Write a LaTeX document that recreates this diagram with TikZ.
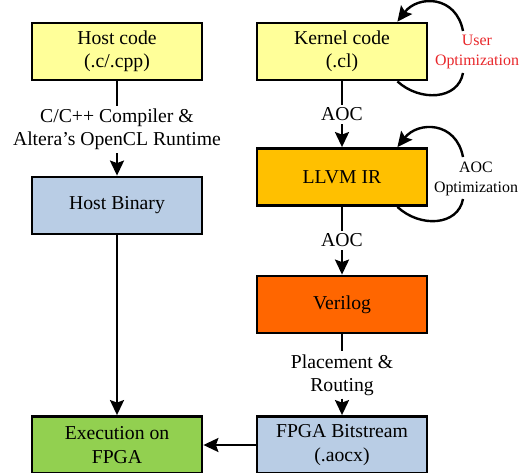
\documentclass[tikz,border=0pt]{standalone}
\usepackage{fontspec}
\setmainfont{Liberation Serif}
\usetikzlibrary{arrows.meta}
\definecolor{cyel}{HTML}{FFFF99}
\definecolor{cblue}{HTML}{B9CDE5}
\definecolor{cgold}{HTML}{FFC000}
\definecolor{corange}{HTML}{FF6600}
\definecolor{cgreen}{HTML}{92D050}
\definecolor{cred}{HTML}{E8262A}
\tikzset{
  box/.style={draw=black, line width=2.8pt, minimum width=170pt, minimum height=57pt,
    align=center, inner sep=0pt, font=\fontsize{19.7}{23.5}\selectfont},
  lab/.style={align=center, inner sep=3pt, font=\fontsize{19.7}{23}\selectfont},
  sidelab/.style={align=center, inner sep=1pt, font=\fontsize{15.9}{20}\selectfont},
  conn/.style={line width=2.4pt},
  arr/.style={line width=2.4pt, -{Stealth[length=15pt,width=14pt,inset=2.5pt]}}
}
\begin{document}
\begin{tikzpicture}[x=1pt,y=1pt]
\useasboundingbox (0,0) rectangle (524,472);
\clip (0,0) rectangle (524,472);
% boxes
\node[box, fill=cyel]    (hcode) at (117,420.5) {Host code\\(.c/.cpp)};
\node[box, fill=cblue]   (hbin)  at (117,266.5) {Host Binary};
\node[box, fill=cgreen]  (exec)  at (117,27)    {Execution on\\FPGA};
\node[box, fill=cyel]    (kern)  at (342,420.5) {Kernel code\\(.cl)};
\node[box, fill=cgold]   (llvm)  at (342,295)   {LLVM IR};
\node[box, fill=corange] (veri)  at (342,167.5) {Verilog};
\node[box, fill=cblue]   (bits)  at (342,27)    {FPGA Bitstream\\(.aocx)};
% edge labels
\node[lab] (hlab) at (117,342.5) {C/C++ Compiler \&\\Altera's OpenCL Runtime};
\node[lab] (aoc1) at (342,357.5) {AOC};
\node[lab] (aoc2) at (342,231.5) {AOC};
\node[lab] (plab) at (342,97)    {Placement \&\\Routing};
\node[sidelab, text=cred] (uopt) at (477,420) {User\\Optimization};
\node[sidelab] (aopt) at (476,293) {AOC\\Optimization};
% connectors
\draw[conn] (hcode) -- (hlab);
\draw[arr]  (hlab) -- (hbin);
\draw[arr]  (hbin) -- (exec);
\draw[conn] (kern) -- (aoc1);
\draw[arr]  (aoc1) -- (llvm);
\draw[conn] (llvm) -- (aoc2);
\draw[arr]  (aoc2) -- (veri);
\draw[conn] (veri) -- (plab);
\draw[arr]  (plab) -- (bits);
\draw[arr]  (bits) -- (exec);
% loops
\coordinate (u1) at (463,441);
\coordinate (u2) at (463,399);
\coordinate (a1) at (463,315);
\coordinate (a2) at (463,273);
\draw[arr] (u1) .. controls (456,477) and (418,477) .. ([xshift=-31pt]kern.north east);
\draw[conn] (u2) .. controls (458,372) and (420,370) .. ([xshift=-31pt]kern.south east);
\draw[arr] (a1) .. controls (456,351) and (418,351) .. ([xshift=-31pt]llvm.north east);
\draw[conn] (a2) .. controls (458,246) and (420,244) .. ([xshift=-31pt]llvm.south east);
\end{tikzpicture}
\end{document}
